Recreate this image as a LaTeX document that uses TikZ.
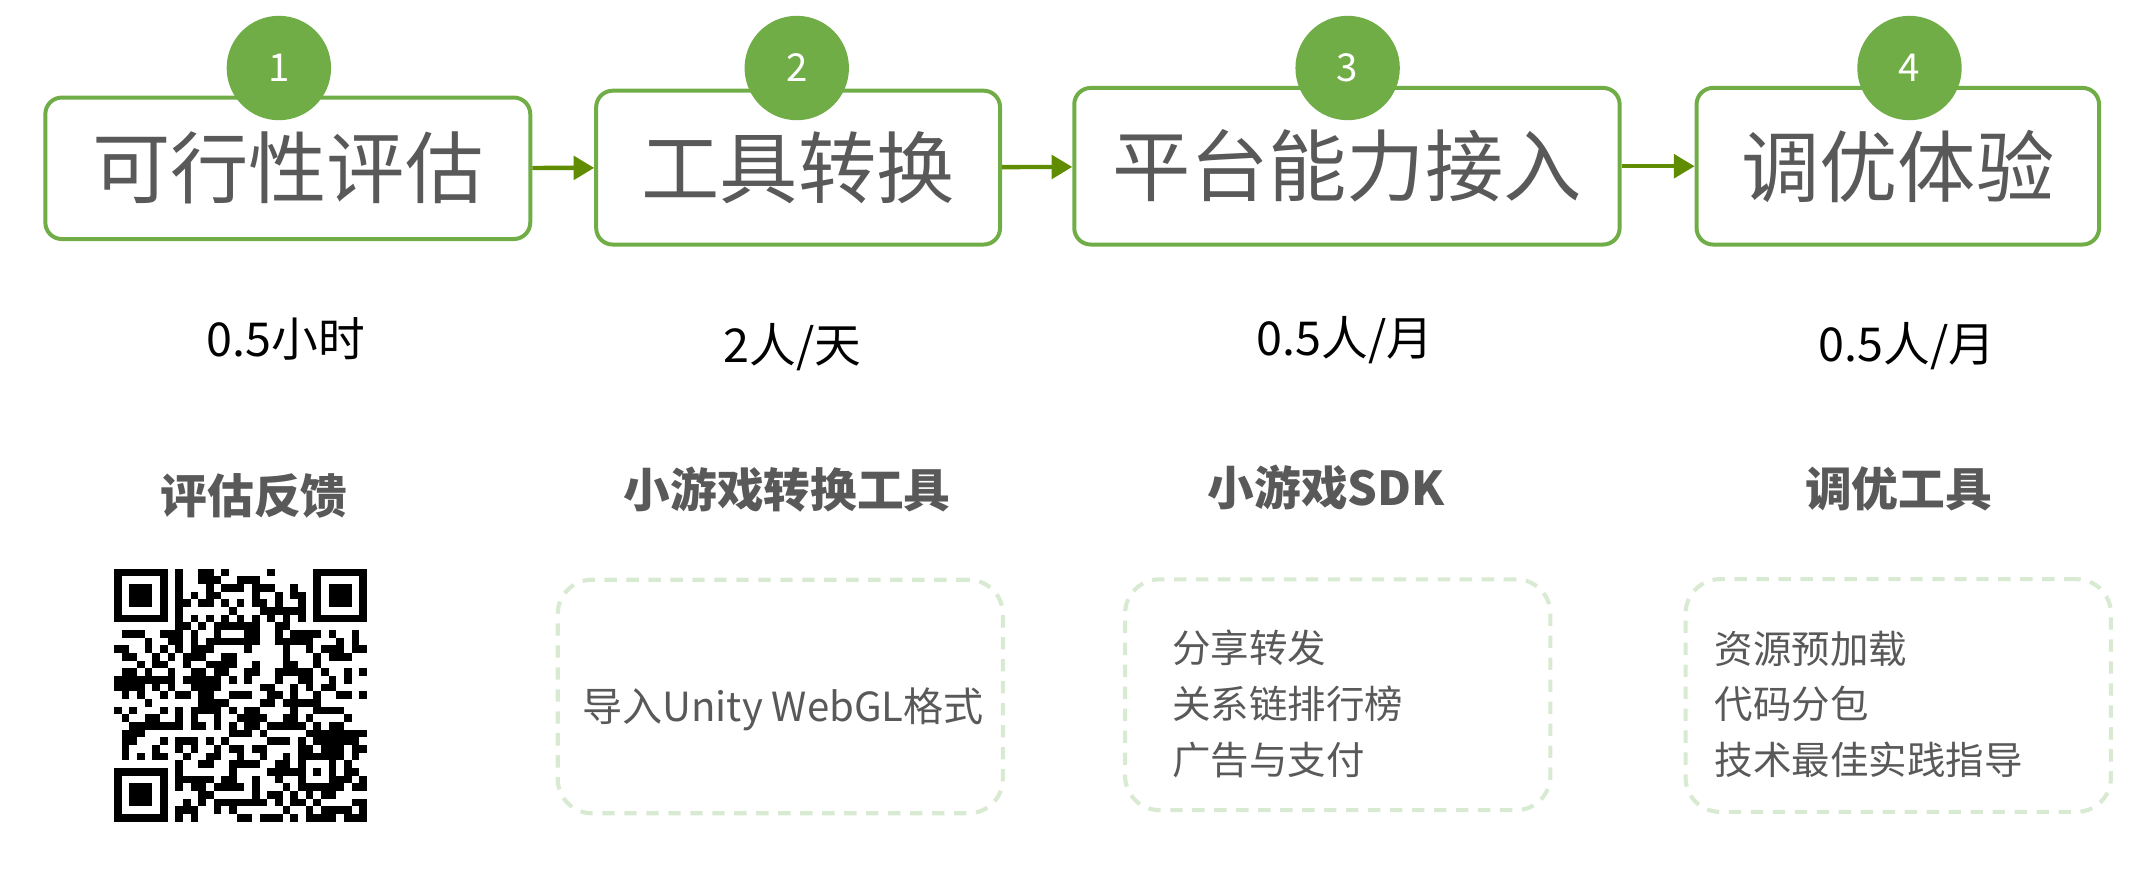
\documentclass[tikz,border=0pt]{standalone}
\usepackage{fontspec}
\setmainfont{Noto Sans CJK SC}
\usetikzlibrary{arrows.meta}
\definecolor{boxgreen}{RGB}{112,173,71}
\definecolor{arrowgreen}{RGB}{95,140,0}
\definecolor{dashgreen}{RGB}{217,234,211}
\definecolor{textgray}{RGB}{89,89,89}

\begin{document}
\begin{tikzpicture}[x=0.5pt,y=-0.5pt]
      \tikzset{stage/.style = {shape=rectangle,draw=boxgreen,line width=1.45pt,rounded corners=6pt,fill=white,text=textgray,font=\fontsize{28.5}{30}\selectfont,inner sep=0pt}}
      \tikzset{badge/.style = {shape=circle,fill=boxgreen,text=white,minimum size=38pt,inner sep=0pt,font=\fontsize{14}{14}\selectfont}}
      \tikzset{edge/.style = {-,draw=arrowgreen,line width=1.6pt,> = {Triangle[length=7.5pt,width=8.5pt]}}}
      \tikzset{cost/.style = {font=\fontsize{17}{20}\selectfont,inner sep=0pt}}
      \tikzset{title/.style = {font=\bfseries\fontsize{17}{20}\selectfont,text=textgray,inner sep=0pt}}
      \tikzset{panel/.style = {shape=rectangle,draw=dashgreen,line width=1.5pt,dash pattern=on 4.5pt off 3.5pt,rounded corners=12.5pt}}
      \tikzset{item/.style = {font=\fontsize{14}{20.25}\selectfont,text=textgray,inner sep=0pt,align=left}}

      \useasboundingbox (0,0) rectangle (1568,649.3);

      \node[stage,minimum width=176.5pt,minimum height=51.5pt] (s1) at (209.5,122.5) {可行性评估};
      \node[stage,minimum width=147pt,minimum height=56pt] (s2) at (581,122) {工具转换};
      \node[stage,minimum width=198.5pt,minimum height=57pt] (s3) at (980.5,121) {平台能力接入};
      \node[stage,minimum width=146.5pt,minimum height=57pt] (s4) at (1381.5,121) {调优体验};

      \node[badge] (n1) at (203,49.5) {1};
      \node[badge] (n2) at (580,49.5) {2};
      \node[badge] (n3) at (981,49.5) {3};
      \node[badge] (n4) at (1390,49.5) {4};

      \draw[edge,->] (s1) to (s2);
      \draw[edge,->] (s2) to (s3);
      \draw[edge,->] (s3) to (s4);

      \node[cost] (t1) at (208,246.5) {0.5小时};
      \node[cost] (t2) at (577,253) {2人/天};
      \node[cost] (t3) at (979,247.5) {0.5人/月};
      \node[cost] (t4) at (1388,252) {0.5人/月};

      \node[title] (h1) at (185,361) {评估反馈};
      \node[title] (h2) at (573,356.5) {小游戏转换工具};
      \node[title] (h3) at (965.5,355) {小游戏SDK};
      \node[title] (h4) at (1382,356) {调优工具};

      \node[panel,minimum width=162pt,minimum height=85pt] (p2) at (568,507) {};
      \node[panel,minimum width=154.8pt,minimum height=84pt] (p3) at (973.8,505.7) {};
      \node[panel,minimum width=154.8pt,minimum height=84.7pt] (p4) at (1381.8,506.3) {};

      \node[item,font=\fontsize{14.6}{20}\selectfont] (l2) at (570,516) {导入Unity WebGL格式};
      \node[item,anchor=west] (l3) at (853,512.5) {分享转发\\关系链排行榜\\广告与支付};
      \node[item,anchor=west] (l4) at (1248,512.5) {资源预加载\\代码分包\\技术最佳实践指导};

      % QR code
      \pgfmathsetseed{11}
      \def\qm{5.58}
      \begin{scope}[shift={(83,414)}]
        \foreach \r in {0,...,32}{
          \foreach \c in {0,...,32}{
            \pgfmathtruncatemacro{\bit}{rnd<0.47}
            \ifnum\bit=1 \fill (\c*\qm,\r*\qm) rectangle ++(\qm,\qm); \fi
          }
        }
        \fill[white] (8*\qm,6*\qm) rectangle (25*\qm,7*\qm);
        \fill[white] (6*\qm,8*\qm) rectangle (7*\qm,25*\qm);
        \foreach \k in {8,10,...,24}{
          \fill (\k*\qm,6*\qm) rectangle ++(\qm,\qm);
          \fill (6*\qm,\k*\qm) rectangle ++(\qm,\qm);
        }
        \foreach \fx/\fy in {0/0,26/0,0/26}{
          \fill[white] (\fx*\qm-\qm,\fy*\qm-\qm) rectangle ++(9*\qm,9*\qm);
          \fill (\fx*\qm,\fy*\qm) rectangle ++(7*\qm,7*\qm);
          \fill[white] (\fx*\qm+\qm,\fy*\qm+\qm) rectangle ++(5*\qm,5*\qm);
          \fill (\fx*\qm+2*\qm,\fy*\qm+2*\qm) rectangle ++(3*\qm,3*\qm);
        }
        \fill (24*\qm,24*\qm) rectangle ++(5*\qm,5*\qm);
        \fill[white] (25*\qm,25*\qm) rectangle ++(3*\qm,3*\qm);
        \fill (26*\qm,26*\qm) rectangle ++(\qm,\qm);
      \end{scope}
    \end{tikzpicture}
\end{document}
